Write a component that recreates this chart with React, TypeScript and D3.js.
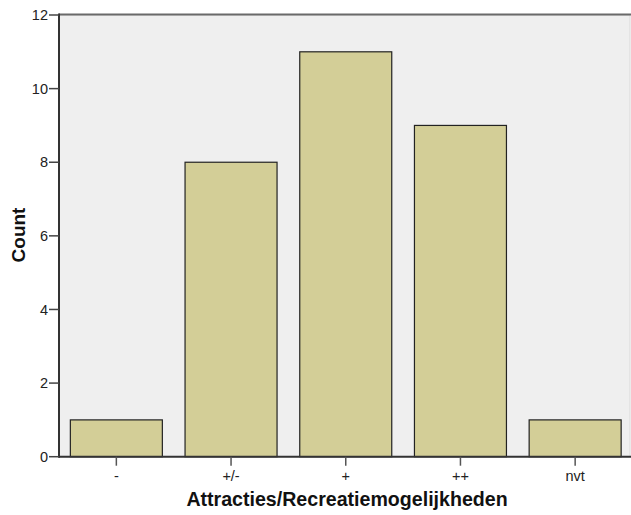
import React from "react";
import * as d3 from "d3";

const categories = ["-", "+/-", "+", "++", "nvt"];
const counts = [1, 8, 11, 9, 1];
const yTicks = [0, 2, 4, 6, 8, 10, 12];

const W = 631, H = 515;
const left = 59, right = 632.5, top = 15, bottom = 456.7;

export default function App() {
  const xc = d3.scaleBand<string>().domain(categories).range([left, right]);
  const y = d3.scaleLinear().domain([0, 12]).range([bottom, top]);
  const font = "'Liberation Sans', Arial, sans-serif";
  return (
    <svg width={W} height={H} style={{ position: "absolute", left: 0, top: 0 }} fontFamily={font}>
      <rect x={0} y={0} width={W} height={H} fill="#fff" />
      <rect x={left} y={top} width={630 - left} height={bottom - top} fill="#efefef" stroke="#d8d8d8" strokeWidth={1} />
      <line x1={left} x2={W} y1={top - 0.5} y2={top - 0.5} stroke="#6a6a6a" strokeWidth={2} />
      {categories.map((c, i) => {
        const bx = xc(c)! + xc.bandwidth() / 2 - 46;
        return (
          <rect key={c} x={bx} y={y(counts[i])} width={92} height={bottom - y(counts[i])}
            fill="#d3ce97" stroke="#222" strokeWidth={1.2} />
        );
      })}
      <line x1={left} x2={W} y1={bottom} y2={bottom} stroke="#333" strokeWidth={2} />
      <line x1={left} x2={left} y1={top - 1.5} y2={bottom + 1} stroke="#333" strokeWidth={2} />
      {yTicks.map(t => (
        <g key={t}>
          <line x1={left - 10} x2={left} y1={y(t)} y2={y(t)} stroke="#444" strokeWidth={1.5} />
          <text x={left - 11} y={y(t)} dy="0.36em" textAnchor="end" fontSize={14.5} fill="#222">{t}</text>
        </g>
      ))}
      {categories.map(c => {
        const cx = xc(c)! + xc.bandwidth() / 2;
        return (
          <g key={c}>
            <line x1={cx} x2={cx} y1={bottom} y2={bottom + 9} stroke="#555" strokeWidth={1.5} />
            <text x={cx} y={481} textAnchor="middle" fontSize={14.5} fill="#222">{c}</text>
          </g>
        );
      })}
      <text x={347} y={506} textAnchor="middle" fontSize={19.6} fontWeight="bold" fill="#111">Attracties/Recreatiemogelijkheden</text>
      <text transform={`translate(25,235) rotate(-90)`} textAnchor="middle" fontSize={19} fontWeight="bold" fill="#111">Count</text>
    </svg>
  );
}
